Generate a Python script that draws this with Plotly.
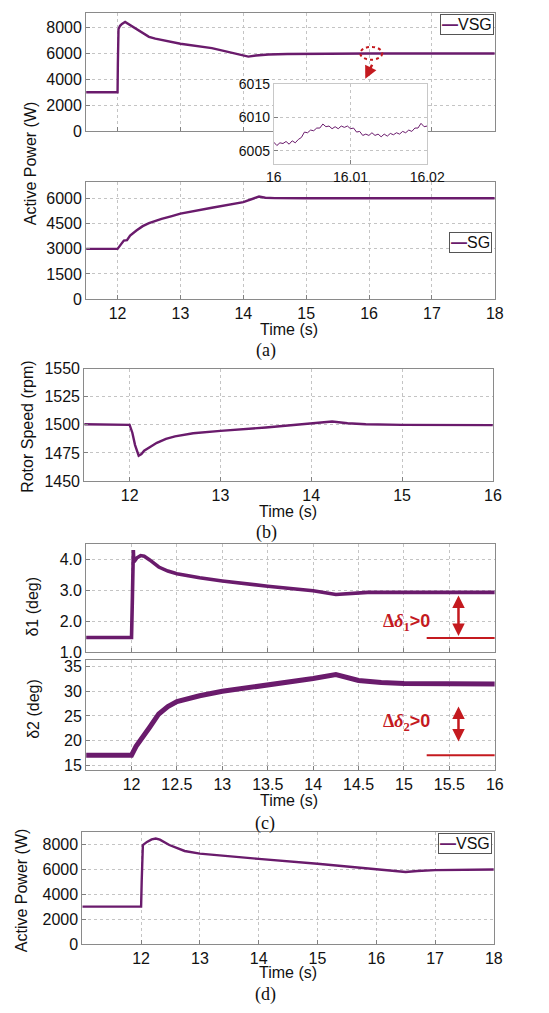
import plotly.graph_objects as go

W, H = 549, 1013

# ---------------- data ----------------
# (a) top: VSG active power
a1_t = [11.5, 12.0, 12.005, 12.015, 12.04, 12.07, 12.12, 12.17, 12.22, 12.3, 12.4, 12.5, 12.6, 12.8,
        13.0, 13.5, 14.0, 14.08, 14.2, 14.4, 14.7, 15.0, 16.0, 18.0]
a1_p = [3000, 3000, 5200, 7900, 8150, 8300, 8450, 8300, 8100, 7850, 7550, 7300, 7150, 6950,
        6760, 6420, 5900, 5760, 5850, 5920, 5960, 5980, 6005, 6005]

# (a) inset: zoom of VSG power around t = 16 s
inset_t = [16.0, 16.0004, 16.0008, 16.0012, 16.0016, 16.002, 16.0024, 16.0028, 16.0032, 16.0036,
           16.004, 16.0044, 16.0048, 16.0052, 16.0056, 16.006, 16.0064, 16.0068, 16.0072, 16.0076,
           16.008, 16.0084, 16.0088, 16.0092, 16.0096, 16.01, 16.0104, 16.0108, 16.0112, 16.0116,
           16.012, 16.0124, 16.0128, 16.0132, 16.0136, 16.014, 16.0144, 16.0148, 16.0152, 16.0156,
           16.016, 16.0164, 16.0168, 16.0172, 16.0176, 16.018, 16.0184, 16.0188, 16.0192, 16.0196,
           16.02]
inset_p = [6006.3, 6005.8, 6006.2, 6006.1, 6006.4, 6006.0, 6006.5, 6006.2, 6006.7, 6007.0,
           6007.8, 6007.7, 6008.1, 6008.0, 6008.4, 6008.4, 6009.0, 6008.6, 6008.7, 6008.3,
           6008.6, 6008.3, 6008.7, 6008.5, 6008.7, 6008.3, 6008.4, 6007.8, 6007.9, 6007.3,
           6007.5, 6007.3, 6007.7, 6007.3, 6007.5, 6007.1, 6007.5, 6007.2, 6007.6, 6007.4,
           6007.7, 6007.5, 6007.9, 6007.7, 6008.1, 6007.9, 6008.4, 6008.4, 6009.1, 6008.6,
           6008.7]

# (a) bottom: SG active power
a2_t = [11.5, 12.0, 12.03, 12.07, 12.1, 12.15, 12.2, 12.3, 12.4, 12.5, 12.6, 12.7, 12.85,
        13.0, 13.5, 14.0, 14.25, 14.35, 14.5, 15.0, 18.0]
a2_p = [3000, 3000, 3150, 3400, 3500, 3520, 3800, 4100, 4360, 4540, 4680, 4790, 4950,
        5110, 5460, 5800, 6130, 6060, 6040, 6030, 6030]

# (b) rotor speed
b_t = [11.5, 11.98, 12.0, 12.03, 12.06, 12.1, 12.13, 12.16, 12.2, 12.3, 12.4, 12.5, 12.7,
       13.0, 13.5, 14.0, 14.23, 14.4, 14.6, 15.0, 16.0]
b_rpm = [1500.5, 1500.5, 1500.0, 1493.0, 1482.0, 1472.5, 1474.0, 1477.0, 1479.0, 1484.0, 1487.5, 1489.7, 1492.5,
         1494.7, 1497.6, 1501.0, 1503.0, 1501.5, 1500.5, 1500.0, 1499.8]

# (c) power angles
c1_t = [11.5, 12.0, 12.01, 12.02, 12.025, 12.035, 12.06, 12.1, 12.14, 12.2, 12.3, 12.4, 12.5,
        12.75, 13.0, 13.5, 14.0, 14.25, 14.4, 14.6, 15.0, 16.0]
c1_d = [1.47, 1.47, 2.8, 4.3, 3.95, 3.95, 4.05, 4.12, 4.1, 3.98, 3.75, 3.62, 3.53,
        3.4, 3.3, 3.13, 2.98, 2.86, 2.9, 2.93, 2.93, 2.93]

c2_t = [11.5, 12.0, 12.05, 12.12, 12.2, 12.3, 12.4, 12.5, 12.75, 13.0, 13.5, 14.0, 14.25,
        14.5, 14.75, 15.0, 16.0]
c2_d = [17.0, 17.0, 18.8, 20.5, 22.7, 25.4, 26.9, 27.9, 29.1, 30.0, 31.2, 32.6, 33.4,
        32.2, 31.8, 31.6, 31.5]

# (d) VSG active power, second case
d_t = [11.0, 12.0, 12.01, 12.03, 12.1, 12.18, 12.25, 12.32, 12.48, 12.74, 13.0, 13.55, 14.0,
       15.0, 15.5, 16.0, 16.3, 16.5, 16.7, 17.0, 18.0]
d_p = [3000, 3000, 5000, 7950, 8200, 8400, 8475, 8380, 7950, 7470, 7260, 7000, 6840,
       6450, 6230, 6000, 5850, 5780, 5860, 5930, 5980]

# tick values
ticks_a_x = [12, 13, 14, 15, 16, 17, 18]
ticks_a1_y = [0, 2000, 4000, 6000, 8000]
ticks_a2_y = [0, 1500, 3000, 4500, 6000]
ticks_b_x = [12, 13, 14, 15, 16]
ticks_b_y = [1450, 1475, 1500, 1525, 1550]
ticks_c_x = [12, 12.5, 13, 13.5, 14, 14.5, 15, 15.5, 16]
ticks_c1_y = [1, 2, 3, 4]
ticks_c2_y = [15, 20, 25, 30, 35]
ticks_d_x = [12, 13, 14, 15, 16, 17, 18]
ticks_d_y = [0, 2000, 4000, 6000, 8000]
ticks_in_x = [16, 16.01, 16.02]
ticks_in_y = [6005, 6010, 6015]

# ---------------- style ----------------
LINE = '#6A1B6C'
RED = '#C41A1F'
SANS = 'Arial, Liberation Sans, sans-serif'
SERIF = 'Times New Roman, Liberation Serif, serif'


def dx(x0, x1):
    return [x0 / W, x1 / W]


def dy(y0, y1):
    return [1 - y1 / H, 1 - y0 / H]


def ax(**kw):
    d = dict(showline=True, linecolor='#8A8A8A', linewidth=1, mirror=True,
             ticks='inside', ticklen=4, tickcolor='#808080', tickwidth=1,
             showgrid=True, gridcolor='#C4C4C4', griddash='dot', gridwidth=1,
             zeroline=False, fixedrange=True,
             tickfont=dict(family=SANS, size=16, color='#111111'))
    d.update(kw)
    return d


fig = go.Figure()


def line(x, y, xa, ya, width):
    fig.add_trace(go.Scatter(x=x, y=y, mode='lines', xaxis=xa, yaxis=ya,
                             line=dict(color=LINE, width=width), showlegend=False,
                             hoverinfo='skip'))


line(a1_t, a1_p, 'x', 'y', 2.4)
line(a2_t, a2_p, 'x2', 'y2', 2.4)
line(b_t, b_rpm, 'x3', 'y3', 2.4)
line(c1_t, c1_d, 'x4', 'y4', 3.6)
line(c2_t, c2_d, 'x5', 'y5', 5.0)
line(d_t, d_p, 'x6', 'y6', 2.4)
line(inset_t, inset_p, 'x7', 'y7', 1.0)

fig.update_layout(
    width=W, height=H, margin=dict(l=0, r=0, t=0, b=0),
    paper_bgcolor='white', plot_bgcolor='white', showlegend=False,
    xaxis=ax(domain=dx(82, 511), anchor='y', range=[11.5, 18], tickvals=ticks_a_x, showticklabels=False),
    yaxis=ax(domain=dy(5, 125), anchor='x', range=[0, 9150], tickvals=ticks_a1_y),
    xaxis2=ax(domain=dx(82, 511), anchor='y2', range=[11.5, 18], tickvals=ticks_a_x),
    yaxis2=ax(domain=dy(177, 296), anchor='x2', range=[0, 7000], tickvals=ticks_a2_y),
    xaxis3=ax(domain=dx(80, 509), anchor='y3', range=[11.5, 16], tickvals=ticks_b_x),
    yaxis3=ax(domain=dy(367, 481), anchor='x3', range=[1450, 1550], tickvals=ticks_b_y),
    xaxis4=ax(domain=dx(82, 511), anchor='y4', range=[11.5, 16], tickvals=ticks_c_x, showticklabels=False),
    yaxis4=ax(domain=dy(545, 655), anchor='x4', range=[1.0, 4.5], tickvals=ticks_c1_y, tickformat='.1f'),
    xaxis5=ax(domain=dx(82, 511), anchor='y5', range=[11.5, 16], tickvals=ticks_c_x),
    yaxis5=ax(domain=dy(663, 775), anchor='x5', range=[14.0, 36.4], tickvals=ticks_c2_y),
    xaxis6=ax(domain=dx(78, 510), anchor='y6', range=[11, 18], tickvals=ticks_d_x),
    yaxis6=ax(domain=dy(838, 952), anchor='x6', range=[0, 9000], tickvals=ticks_d_y),
    xaxis7=ax(domain=dx(279, 440), anchor='y7', range=[16, 16.02], tickvals=ticks_in_x,
              linecolor='#C8C8C8', tickfont=dict(family=SANS, size=14, color='#111111')),
    yaxis7=ax(domain=dy(77, 159), anchor='x7', range=[6003, 6015], tickvals=ticks_in_y,
              linecolor='#C8C8C8', tickfont=dict(family=SANS, size=14, color='#111111')),
)

shapes = [
    # white background of the inset (drawn in the inset subplot, below its grid)
    dict(type='rect', xref='x7 domain', yref='y7 domain', x0=0, x1=1, y0=0, y1=1,
         fillcolor='white', line=dict(width=0), layer='below'),
    # dashed ellipse marking the zoomed region
    dict(type='circle', xref='x', yref='y', x0=15.86, x1=16.21, y0=5520, y1=6510,
         line=dict(color=RED, width=2, dash='dot')),
    # reference lines in (c)
    dict(type='line', xref='x4', yref='y4', x0=15.25, x1=16, y0=1.45, y1=1.45,
         line=dict(color=RED, width=2)),
    dict(type='line', xref='x5', yref='y5', x0=15.25, x1=16, y0=17, y1=17,
         line=dict(color=RED, width=2)),
]
fig.update_layout(shapes=shapes)


def txt(text, X, Y, size=16, family=SANS, angle=0, color='#111111'):
    return dict(text=text, x=X / W, y=1 - Y / H, xref='paper', yref='paper',
                showarrow=False, textangle=angle, xanchor='center', yanchor='middle',
                font=dict(family=family, size=size, color=color))


def legend_box(label, Xr, Yt):
    return dict(text='<span style="color:%s"><b>—</b></span>%s' % (LINE, label),
                x=Xr / W, y=1 - Yt / H, xref='paper', yref='paper', xanchor='right', yanchor='top',
                showarrow=False, bgcolor='white', bordercolor='#555555', borderwidth=1, borderpad=1,
                font=dict(family=SANS, size=16, color='#111111'))


delta1 = '<b><span style="font-family:Times New Roman, Liberation Serif">Δ<i>δ</i><sub>1</sub></span>&gt;0</b>'
delta2 = '<b><span style="font-family:Times New Roman, Liberation Serif">Δ<i>δ</i><sub>2</sub></span>&gt;0</b>'

annotations = [
    txt('Active Power (W)', 23, 158, size=16, angle=-90),
    txt('Time (s)', 295, 327),
    txt('(a)', 271, 348, size=18, family=SERIF),
    txt('Rotor Speed (rpm)', 21, 426, size=16, angle=-90),
    txt('Time (s)', 294, 512),
    txt('(b)', 271, 533, size=18, family=SERIF),
    txt('δ1 (deg)', 26, 609, size=16, angle=-90),
    txt('δ2 (deg)', 26, 713, size=16, angle=-90),
    txt('Time (s)', 295, 806),
    txt('(c)', 270, 829, size=18, family=SERIF),
    txt('Active Power (W)', 15, 897, size=16, angle=-90),
    txt('Time (s)', 294, 981),
    txt('(d)', 270, 1003, size=18, family=SERIF),
    legend_box('VSG', 510, 6),
    legend_box('SG', 508, 228),
    legend_box('VSG', 508, 839),
    # arrow from the ellipse to the inset
    dict(x=15.94, y=4050, ax=16.06, ay=5250, xref='x', yref='y', axref='x', ayref='y',
         showarrow=True, arrowhead=2, arrowsize=1, arrowwidth=2.5, arrowcolor=RED, text=''),
    # double arrows in (c)
    dict(x=15.6, y=1.52, ax=15.6, ay=2.88, xref='x4', yref='y4', axref='x4', ayref='y4',
         showarrow=True, arrowhead=2, startarrowhead=2, arrowside='end+start', arrowsize=1,
         arrowwidth=2.5, arrowcolor=RED, text=''),
    dict(x=15.6, y=19.8, ax=15.6, ay=27.2, xref='x5', yref='y5', axref='x5', ayref='y5',
         showarrow=True, arrowhead=2, startarrowhead=2, arrowside='end+start', arrowsize=1,
         arrowwidth=2.5, arrowcolor=RED, text=''),
    dict(text=delta1, x=15.03, y=1.95, xref='x4', yref='y4', showarrow=False,
         font=dict(family=SANS, size=18, color=RED)),
    dict(text=delta2, x=15.03, y=23.6, xref='x5', yref='y5', showarrow=False,
         font=dict(family=SANS, size=18, color=RED)),
]
fig.update_layout(annotations=annotations)

fig.write_html('out.html', config={'displayModeBar': False},
               post_script="document.body.style.margin='0px';"
                           "document.documentElement.style.overflow='hidden';"
                           "document.body.style.overflow='hidden';")
